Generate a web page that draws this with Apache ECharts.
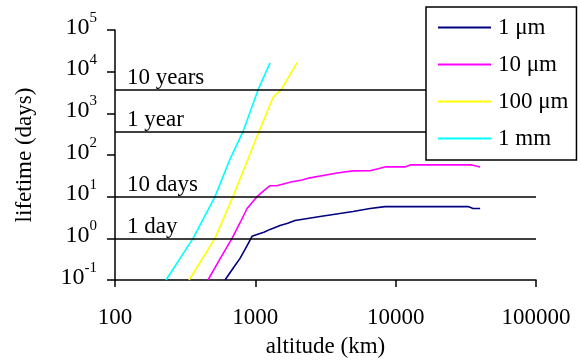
<!DOCTYPE html>
<html>
<head>
<meta charset="utf-8">
<script src="https://cdn.jsdelivr.net/npm/echarts@6/dist/echarts.min.js"></script>
<style>
    html, body { margin: 0; padding: 0; background: #fff; }
    #lifetime { width: 581px; height: 363px; }
</style>
</head>
<body>
<div id="lifetime"></div>
<script>
// altitude (km) / lifetime (days)
var sizeNames = ['1 μm', '10 μm', '100 μm', '1 mm'];
var sizeColors = ['#000080', '#ff00ff', '#ffff00', '#00ffff'];

var alt1um = [608, 700, 778, 870, 947, 1028, 1150, 1273, 1500, 1681, 1918, 2892, 4970, 6570, 8400, 32800, 35600, 40000];
var life1um = [0.1, 0.2, 0.33, 0.65, 1.12, 1.24, 1.4, 1.64, 2.04, 2.27, 2.68, 3.34, 4.4, 5.18, 5.78, 5.78, 5.18, 5.18];

var alt10um = [460, 560, 682, 780, 873, 1028, 1150, 1273, 1420, 1827, 2153, 2454, 3823, 4970, 6570, 8400, 11670, 12680, 35000, 40000];
var life10um = [0.1, 0.32, 1, 2.4, 5.2, 10, 13.9, 18.3, 18.3, 22.7, 25, 28.3, 37, 41.6, 42, 51.8, 51.8, 57.8, 57.8, 51.8];

var alt100um = [337, 516, 693, 887, 1062, 1337, 1420, 1524, 1750, 1982];
var life100um = [0.1, 1, 10, 80, 365, 2400, 2950, 3650, 8000, 16200];

var alt1mm = [231, 360, 516, 660, 817, 1045, 1273];
var life1mm = [0.1, 1, 10, 80, 365, 3650, 16200];

// reference lifetimes
var refValues = [1, 10, 365, 3650];
var refLabels = ['1 day', '10 days', '1 year', '10 years'];

function pairs(xs, ys) {
    var out = [];
    for (var i = 0; i < xs.length; i++) {
        out.push([xs[i], ys[i]]);
    }
    return out;
}

function chart() {
    var dom = document.getElementById("lifetime");
    var myChart = echarts.init(dom, null, {renderer: 'canvas'});
    var font = 'Liberation Serif';
    var allAlt = [alt1um, alt10um, alt100um, alt1mm];
    var allLife = [life1um, life10um, life100um, life1mm];

    var series = [];
    var legendData = [];
    for (var i = 0; i < sizeNames.length; i++) {
        series.push({
            name: sizeNames[i],
            type: 'line',
            symbol: 'none',
            z: 3,
            lineStyle: {color: sizeColors[i], width: 1.6},
            itemStyle: {color: sizeColors[i]},
            data: pairs(allAlt[i], allLife[i])
        });
        legendData.push({name: sizeNames[i], icon: 'rect', itemStyle: {color: sizeColors[i]}});
    }
    // horizontal reference lines
    var marks = [];
    for (var j = 0; j < refValues.length; j++) {
        marks.push({yAxis: refValues[j], name: refLabels[j]});
    }
    series.push({
        name: 'refs',
        type: 'line',
        data: [],
        z: 2,
        markLine: {
            silent: true,
            symbol: ['none', 'none'],
            lineStyle: {color: '#000', width: 1.6, type: 'solid'},
            label: {
                position: 'insideStartTop',
                formatter: '{b}',
                color: '#000',
                fontFamily: font,
                fontSize: 23,
                distance: [12, 0]
            },
            emphasis: {disabled: true},
            data: marks
        }
    });

    var option = {
        animation: false,
        backgroundColor: '#fff',
        grid: {left: 115, right: 45, top: 30, bottom: 81},
        legend: {
            data: legendData,
            orient: 'vertical',
            left: 426,
            top: 7,
            z: 10,
            backgroundColor: '#fff',
            borderColor: '#000',
            borderWidth: 1.5,
            borderRadius: 0,
            padding: [9, 8, 10, 12],
            itemWidth: 53,
            itemHeight: 2,
            itemGap: 14,
            textStyle: {fontFamily: font, fontSize: 23, color: '#000', padding: [0, 0, 0, 2]}
        },
        xAxis: {
            type: 'log',
            logBase: 10,
            min: 100,
            max: 100000,
            name: 'altitude (km)',
            nameLocation: 'middle',
            nameGap: 55,
            nameTextStyle: {fontFamily: font, fontSize: 23, color: '#000'},
            axisLine: {lineStyle: {color: '#000', width: 1.5}},
            axisTick: {inside: false, length: 7, lineStyle: {color: '#000', width: 1.5}},
            axisLabel: {
                fontFamily: font, fontSize: 23, color: '#000', margin: 26,
                formatter: function(v) { return String(Math.round(v)); }
            },
            splitLine: {show: false},
            minorTick: {show: false}
        },
        yAxis: {
            type: 'log',
            logBase: 10,
            min: 0.1,
            max: 100000,
            name: 'lifetime (days)',
            nameLocation: 'middle',
            nameGap: 79,
            nameTextStyle: {fontFamily: font, fontSize: 23, color: '#000'},
            axisLine: {lineStyle: {color: '#000', width: 1.5}},
            axisTick: {inside: false, length: 8, lineStyle: {color: '#000', width: 1.5}},
            axisLabel: {
                margin: 18,
                padding: [0, 0, 4, 0],
                formatter: function(v) {
                    var e = Math.round(Math.log(v) / Math.LN10);
                    return '{b|10}{sup|' + e + '}';
                },
                rich: {
                    b: {fontFamily: font, fontSize: 24, color: '#000', verticalAlign: 'bottom', padding: [0, 0, 6, 0]},
                    sup: {fontFamily: font, fontSize: 15, color: '#000', verticalAlign: 'bottom', padding: [0, 0, 20, 0]}
                }
            },
            splitLine: {show: false},
            minorTick: {show: false}
        },
        series: series
    };
    myChart.setOption(option, true);
    window.onresize = myChart.resize;
}

chart();
</script>
</body>
</html>
